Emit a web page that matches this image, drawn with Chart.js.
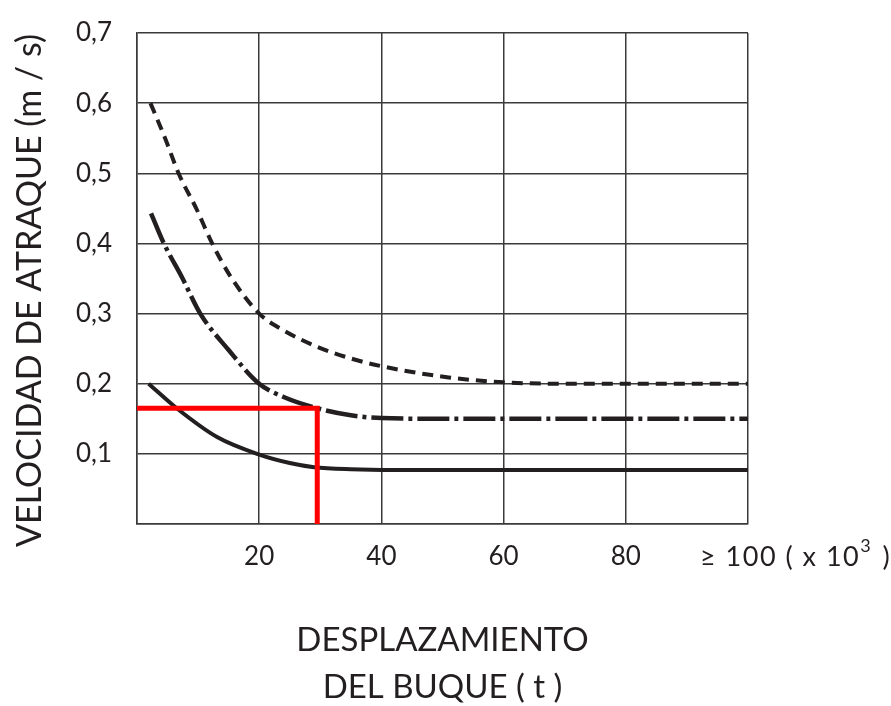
<!DOCTYPE html>
<html>
<head>
<meta charset="utf-8">
<script src="https://cdn.jsdelivr.net/npm/chart.js@4"></script>
<style>
  html, body { margin: 0; padding: 0; background: #fff; }
  #wrap { width: 891px; height: 706px; }
</style>
</head>
<body>
<div id="wrap"><canvas id="myChart" width="891" height="706"></canvas></div>
<script>
// displacement (x 10^3 t) and berthing velocity (m/s)
const dashedX = [2.2, 4.6, 6.8, 9.8, 12.3, 15.3, 20, 24, 29.4, 35, 40, 51, 60, 70, 100];
const dashedY = [0.6, 0.55, 0.5, 0.448, 0.4, 0.353, 0.3, 0.276, 0.253, 0.236, 0.225, 0.209, 0.202, 0.2, 0.2];

const dashDotX = [2.3, 4.4, 7.4, 10.35, 15, 20, 24, 29.5, 35, 40, 50, 100];
const dashDotY = [0.443, 0.4, 0.351, 0.3, 0.248, 0.2, 0.181, 0.165, 0.155, 0.151, 0.15, 0.15];

const solidX = [1.9, 6.5, 13.1, 20, 25, 29, 35, 42, 100];
const solidY = [0.2, 0.165, 0.124, 0.099, 0.087, 0.081, 0.078, 0.077, 0.077];

// red reading lines
const redX = [0, 29.5, 29.5];
const redY = [0.165, 0.165, 0];

const xTicks = [20, 40, 60, 80];
const yTitle = 'VELOCIDAD DE ATRAQUE (m / s)';
const xTitle = ['DESPLAZAMIENTO', 'DEL BUQUE ( t )'];

const ink = '#231f20';
const gridColor = '#3a3a3a';
const font = 'Lato';

function pts(xs, ys) {
  return xs.map((x, i) => ({x: x, y: ys[i]}));
}

// y title and the "≥ 100 ( x 10³ )" label are drawn by hand
const extraText = {
  id: 'extraText',
  afterDraw(chart) {
    const ctx = chart.ctx;
    const xs = chart.scales.x;
    const ys = chart.scales.y;
    ctx.save();
    ctx.fillStyle = ink;

    // y title
    ctx.save();
    ctx.font = '34px ' + font;
    ctx.textAlign = 'center';
    ctx.textBaseline = 'middle';
    ctx.translate(30, (ys.top + ys.bottom) / 2 + 12);
    ctx.rotate(-Math.PI / 2);
    ctx.fillText(yTitle, 0, 0);
    ctx.restore();

    // last x label
    const y0 = xs.top + 33;
    let x0 = xs.getPixelForValue(100) - 48;
    ctx.textAlign = 'left';
    ctx.textBaseline = 'middle';
    ctx.font = '27px ' + font;
    ctx.letterSpacing = '1.5px';
    const a = '\u2265 100 ( x 10';
    ctx.fillText(a, x0, y0);
    x0 += ctx.measureText(a).width;
    ctx.font = '18px ' + font;
    ctx.fillText('3', x0, y0 - 11);
    x0 += ctx.measureText('3').width + 2;
    ctx.font = '27px ' + font;
    ctx.fillText(' )', x0, y0);
    ctx.restore();
  }
};

new Chart(document.getElementById('myChart'), {
  type: 'line',
  data: {
    datasets: [
      {
        data: pts(redX, redY),
        borderColor: '#ff0000',
        borderWidth: 5,
        tension: 0,
        borderCapStyle: 'butt',
        borderJoinStyle: 'miter'
      },
      {
        data: pts(dashedX, dashedY),
        borderColor: ink,
        borderWidth: 4,
        borderDash: [11, 7],
        cubicInterpolationMode: 'monotone'
      },
      {
        data: pts(dashDotX, dashDotY),
        borderColor: ink,
        borderWidth: 4.5,
        borderDash: [32, 5, 4, 5],
        cubicInterpolationMode: 'monotone'
      },
      {
        data: pts(solidX, solidY),
        borderColor: ink,
        borderWidth: 4,
        cubicInterpolationMode: 'monotone'
      }
    ]
  },
  options: {
    responsive: false,
    animation: false,
    events: [],
    elements: { point: { radius: 0 } },
    layout: { padding: { top: 33, right: 143, left: 0, bottom: 0 } },
    plugins: { legend: { display: false }, tooltip: { enabled: false } },
    scales: {
      x: {
        type: 'linear',
        min: 0,
        max: 100,
        afterFit: s => { s.height = 182; },
        afterBuildTicks: s => { s.ticks = [0].concat(xTicks, [100]).map(v => ({value: v})); },
        ticks: {
          padding: 17,
          color: ink,
          font: { family: font, size: 26 },
          maxRotation: 0,
          callback: v => xTicks.includes(v) ? String(v) : ''
        },
        grid: { color: gridColor, lineWidth: 1.5, drawTicks: false },
        border: { color: gridColor, width: 1.5 },
        title: {
          display: true,
          text: xTitle,
          color: ink,
          font: { family: font, size: 33, lineHeight: 1.42 },
          padding: { top: 0, bottom: -5 }
        }
      },
      y: {
        min: 0,
        max: 0.7,
        afterFit: s => { s.width = 137; s.paddingTop = 0; s.paddingBottom = 0; },
        ticks: {
          stepSize: 0.1,
          padding: 25,
          color: ink,
          font: { family: font, size: 26 },
          callback: v => v === 0 ? '' : v.toFixed(1).replace('.', ',')
        },
        grid: { color: gridColor, lineWidth: 1.5, drawTicks: false },
        border: { color: gridColor, width: 1.5 }
      }
    }
  },
  plugins: [extraText]
});
</script>
</body>
</html>
